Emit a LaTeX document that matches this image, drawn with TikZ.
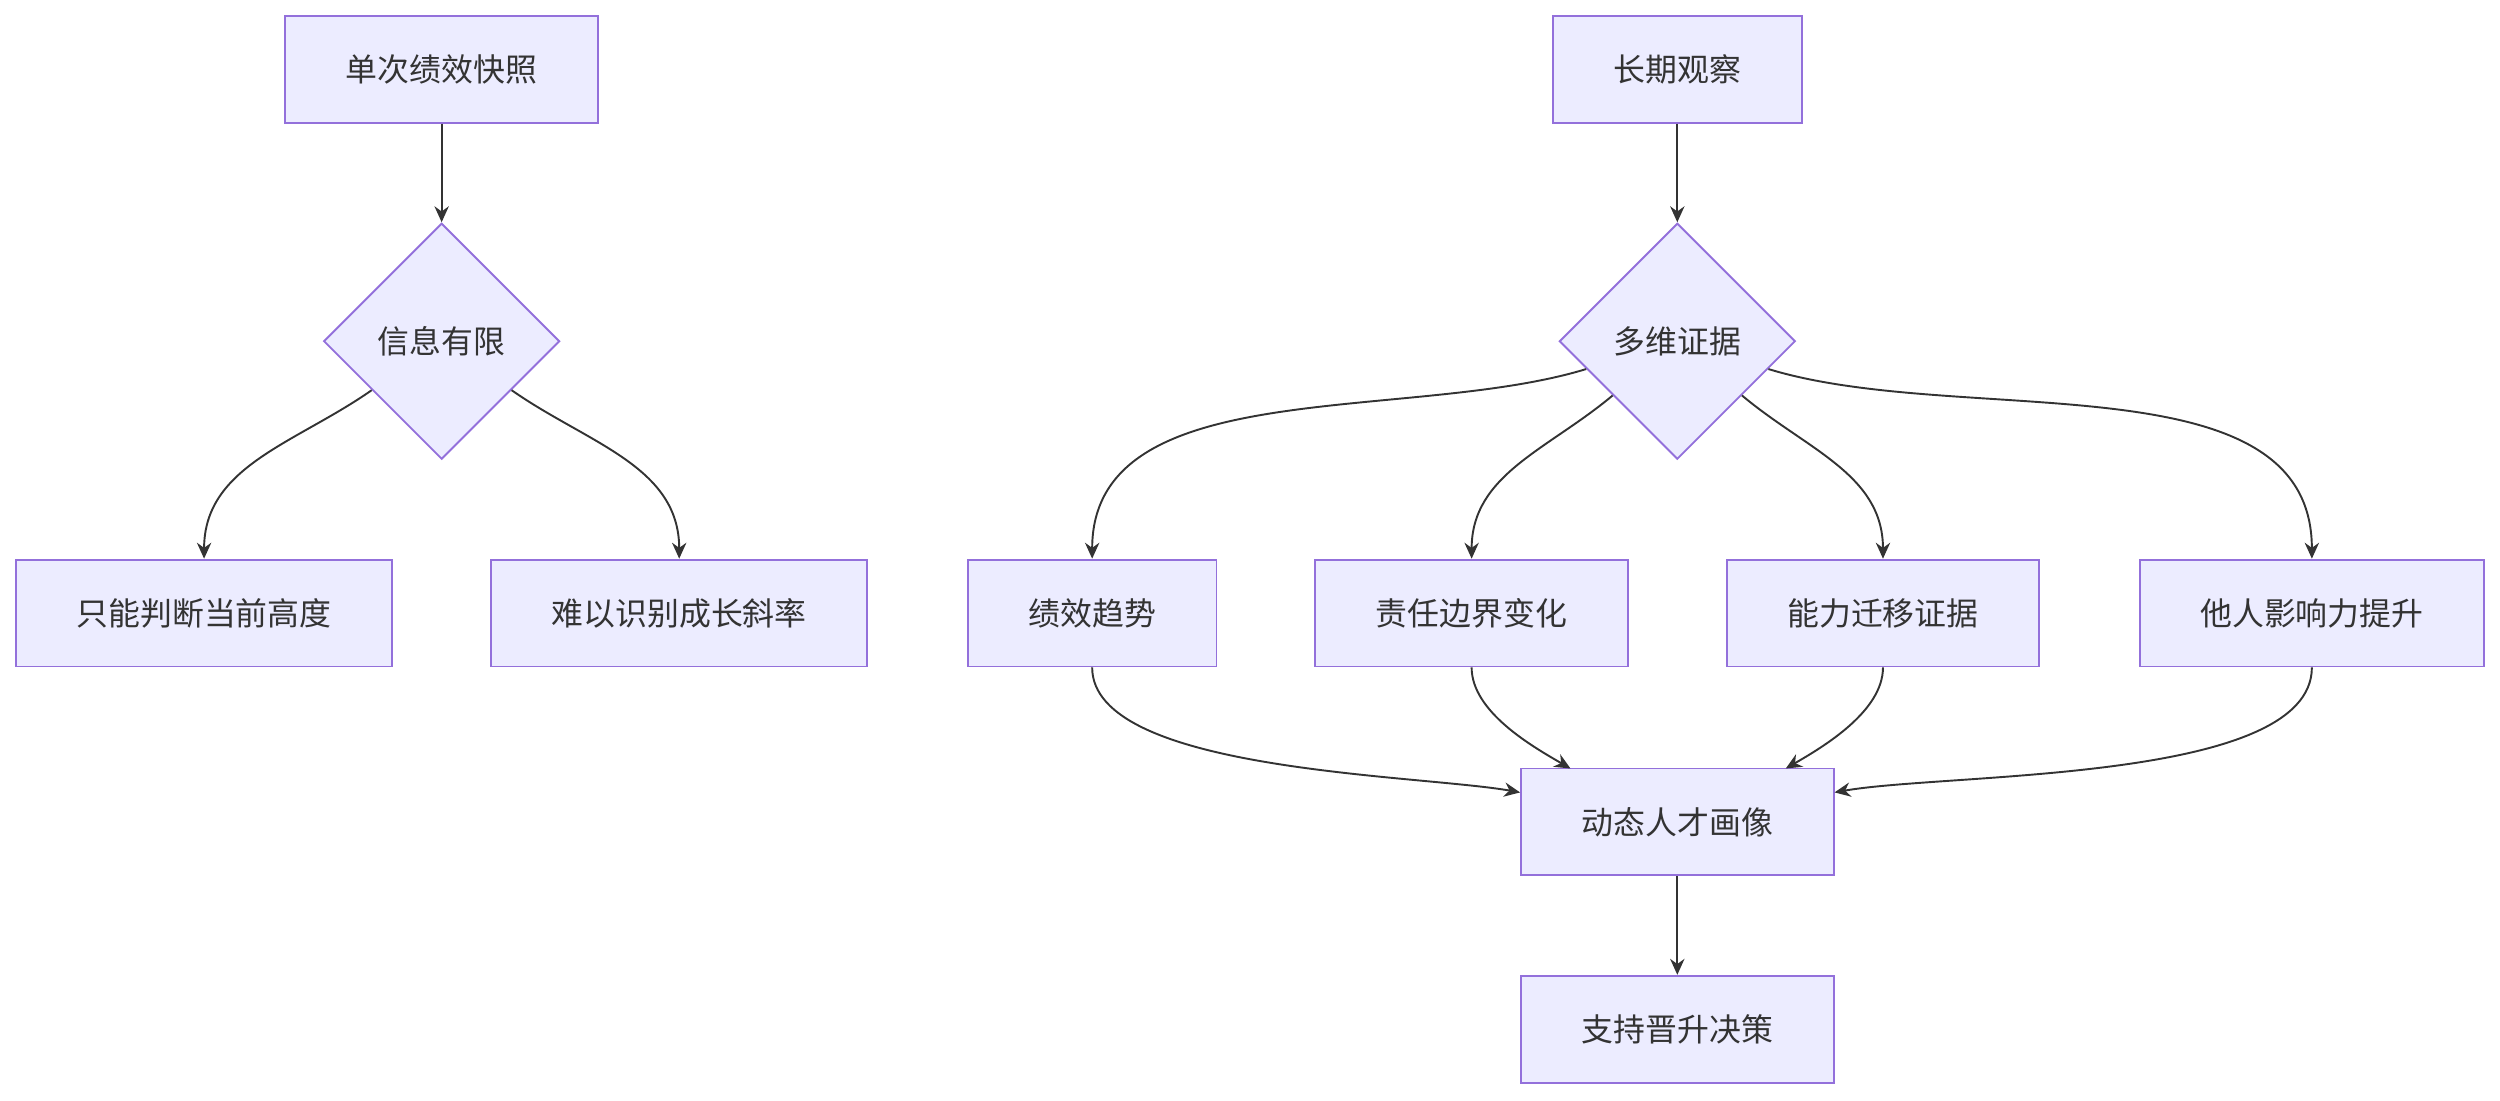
\documentclass[tikz,border=0pt]{standalone}
\usepackage{fontspec}
\setmainfont{Noto Sans CJK SC}
\usetikzlibrary{shapes.geometric,arrows.meta}
\definecolor{nfill}{HTML}{ECECFF}
\definecolor{nline}{HTML}{9370DB}
\definecolor{eline}{HTML}{333333}
\begin{document}
\begin{tikzpicture}[x=0.5pt,y=-0.5pt,
  box/.style={draw=nline,fill=nfill,line width=0.6pt,minimum height=33.5pt,inner sep=0pt,font=\fontsize{10}{12}\selectfont,text=eline},
  dia/.style={diamond,draw=nline,fill=nfill,line width=0.6pt,minimum width=74pt,minimum height=74pt,inner sep=0pt,font=\fontsize{10}{12}\selectfont,text=eline},
  ar/.style={draw=eline,line width=0.6pt,-{Stealth[length=5pt,width=4.5pt]}}]
\useasboundingbox (0,0) rectangle (1568,690);
\node[box,minimum width=98pt] (a) at (277,43.5) {单次绩效快照};
\node[dia] (b) at (277,214) {信息有限};
\node[box,minimum width=118pt] (c) at (128,384.5) {只能判断当前高度};
\node[box,minimum width=118pt] (d) at (426,384.5) {难以识别成长斜率};
\node[box,minimum width=78pt] (e) at (1052,43.5) {长期观察};
\node[dia] (f) at (1052,214) {多维证据};
\node[box,minimum width=78pt] (g) at (685,384.5) {绩效趋势};
\node[box,minimum width=98pt] (h) at (923,384.5) {责任边界变化};
\node[box,minimum width=98pt] (i) at (1181,384.5) {能力迁移证据};
\node[box,minimum width=108pt] (j) at (1450,384.5) {他人影响力提升};
\node[box,minimum width=98pt] (k) at (1052,515.5) {动态人才画像};
\node[box,minimum width=98pt] (l) at (1052,645.5) {支持晋升决策};
\draw[ar] (a) -- (b);
\draw[ar] (b.215) to[out=-145,in=90] (c.north);
\draw[ar] (b.-35) to[out=-35,in=90] (d.north);
\draw[ar] (e) -- (f);
\draw[ar] (f.197) to[out=-163,in=90,looseness=0.9] (g.north);
\draw[ar] (f.220) to[out=-140,in=90] (h.north);
\draw[ar] (f.-40) to[out=-40,in=90] (i.north);
\draw[ar] (f.-17) to[out=-17,in=90,looseness=0.9] (j.north);
\draw[ar] (g.south) to[out=-90,in=170,looseness=0.6] (k.west|-0,497);
\draw[ar] (h.south) to[out=-90,in=150,looseness=0.8] (985,482);
\draw[ar] (i.south) to[out=-90,in=30,looseness=0.8] (1120,482);
\draw[ar] (j.south) to[out=-90,in=10,looseness=0.6] (k.east|-0,497);
\draw[ar] (k) -- (l);
\end{tikzpicture}
\end{document}
